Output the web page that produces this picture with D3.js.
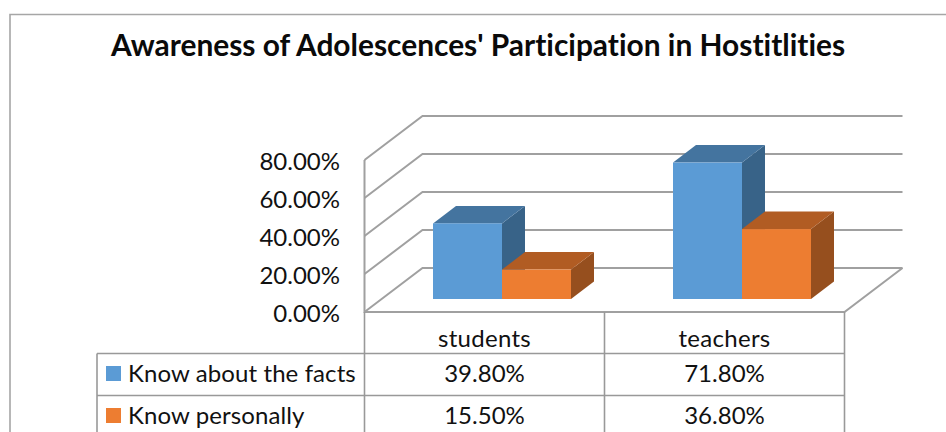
<!DOCTYPE html>
<html lang="en">
<head>
    <meta charset="UTF-8">
    <title>Awareness of Adolescences' Participation in Hostitlities</title>
    <script src="https://d3js.org/d3.v7.min.js"></script>
    <style>
        html, body { margin: 0; padding: 0; background: #fff; overflow: hidden; }
        svg { display: block; font-family: Lato, "Open Sans", sans-serif; font-variant-ligatures: none; }
        .grid { stroke: #a0a0a0; stroke-width: 2; fill: none; }
        .cell { stroke: #999; stroke-width: 1.6; fill: none; }
        .lbl { font-size: 24px; fill: #111; }
    </style>
</head>
<body>
<svg id="chart" width="946" height="432"></svg>
<script>
const categories = ['students', 'teachers'];
const seriesNames = ['Know about the facts', 'Know personally'];
const factsValues = [39.8, 71.8];
const personallyValues = [15.5, 36.8];
const yTicks = [0, 20, 40, 60, 80];
const titleText = "Awareness of Adolescences' Participation in Hostitlities";

const colors = ['#5b9bd5', '#ed7d31'];
const topColors = ['#44749f', '#b15c23'];
const sideColors = ['#386388', '#964f1e'];

const svg = d3.select('#chart');
const fmt = v => v.toFixed(2) + '%';

const x0 = d3.scaleBand().domain(categories).range([364.5, 844.5]);
const x1 = d3.scaleBand().domain(seriesNames).range([-69, 69]);
const y = d3.scaleLinear().domain([0, 80]).range([312, 160]);

// 3d offsets: back wall, and where the bars sit on the floor
const wall = { dx: 58, dy: -44 };
const barBase = { dx: 17.5, dy: -13 };
const barDepth = { dx: 23, dy: -17.5 };

// outer frame (cut off by the screenshot on the right and bottom)
svg.append('path').attr('d', 'M946,14.5H10V432')
    .attr('fill', 'none').attr('stroke', '#a6a6a6').attr('stroke-width', 1.6);

svg.append('text')
    .attr('x', 478).attr('y', 56)
    .attr('text-anchor', 'middle')
    .attr('font-size', 29.9).attr('font-weight', 700).attr('fill', '#0a0a0a')
    .text(titleText);

// gridlines on wall
const x0End = x0.range()[1];
const xL = x0.range()[0];
yTicks.forEach(t => {
    const yy = y(t);
    svg.append('path').attr('class', 'grid')
        .attr('d', `M${xL},${yy}L${xL + wall.dx},${yy + wall.dy}H${x0End + wall.dx}`);
});

// left wall edge + floor
svg.append('path').attr('class', 'grid')
    .attr('d', `M${xL},${y(80)}V${y(0)}H${x0End}L${x0End + wall.dx},${y(0) + wall.dy}`);

// y tick labels
svg.selectAll('.ytick').data(yTicks).enter().append('text')
    .attr('class', 'lbl ytick')
    .attr('x', 340).attr('y', d => y(d) + 1)
    .attr('dy', '0.36em')
    .attr('text-anchor', 'end')
    .text(fmt);

// bars
const allValues = [factsValues, personallyValues];
categories.forEach((c, i) => {
    seriesNames.forEach((s, k) => {
        const v = allValues[k][i];
        const left = x0(c) + x0.bandwidth() / 2 + barBase.dx + x1(s);
        const right = left + x1.bandwidth();
        const bottom = y(0) + barBase.dy;
        const top = y(v) + barBase.dy;
        const g = svg.append('g');
        g.append('path').attr('fill', sideColors[k])
            .attr('d', `M${right},${top}L${right + barDepth.dx},${top + barDepth.dy}V${bottom + barDepth.dy}L${right},${bottom}Z`);
        g.append('path').attr('fill', topColors[k])
            .attr('d', `M${left},${top}L${left + barDepth.dx},${top + barDepth.dy}H${right + barDepth.dx}L${right},${top}Z`);
        g.append('rect').attr('fill', colors[k])
            .attr('x', left).attr('y', top)
            .attr('width', x1.bandwidth()).attr('height', bottom - top);
    });
});

// data table
const rowY = d3.scaleBand().domain(seriesNames).range([353.5, 437.5]);
const legendLeft = 97;

[x0('students'), x0('teachers'), x0End].forEach(xx => {
    svg.append('line').attr('class', 'cell')
        .attr('x1', xx).attr('x2', xx).attr('y1', y(0)).attr('y2', 432);
});

svg.append('line').attr('class', 'cell')
    .attr('x1', legendLeft).attr('x2', legendLeft).attr('y1', rowY.range()[0]).attr('y2', 432);

seriesNames.forEach(s => {
    svg.append('line').attr('class', 'cell')
        .attr('x1', legendLeft).attr('x2', x0End)
        .attr('y1', rowY(s)).attr('y2', rowY(s));
});

categories.forEach(c => {
    svg.append('text').attr('class', 'lbl')
        .attr('x', x0(c) + x0.bandwidth() / 2).attr('y', 338)
        .attr('dy', '0.36em').attr('text-anchor', 'middle')
        .style('letter-spacing', '0.3px')
        .text(c);
});

seriesNames.forEach((s, k) => {
    const rowMid = rowY(s) + rowY.bandwidth() / 2 - 1;
    svg.append('rect')
        .attr('x', legendLeft + 9).attr('y', rowMid - 7.5)
        .attr('width', 15).attr('height', 15)
        .attr('fill', colors[k]);
    svg.append('text').attr('class', 'lbl')
        .attr('x', legendLeft + 31).attr('y', rowMid)
        .attr('dy', '0.36em')
        .style('letter-spacing', '0.1px')
        .text(s);
    categories.forEach((c, i) => {
        svg.append('text').attr('class', 'lbl')
            .attr('x', x0(c) + x0.bandwidth() / 2).attr('y', rowMid)
            .attr('dy', '0.36em').attr('text-anchor', 'middle')
            .text(fmt(allValues[k][i]));
    });
});
</script>
</body>
</html>
